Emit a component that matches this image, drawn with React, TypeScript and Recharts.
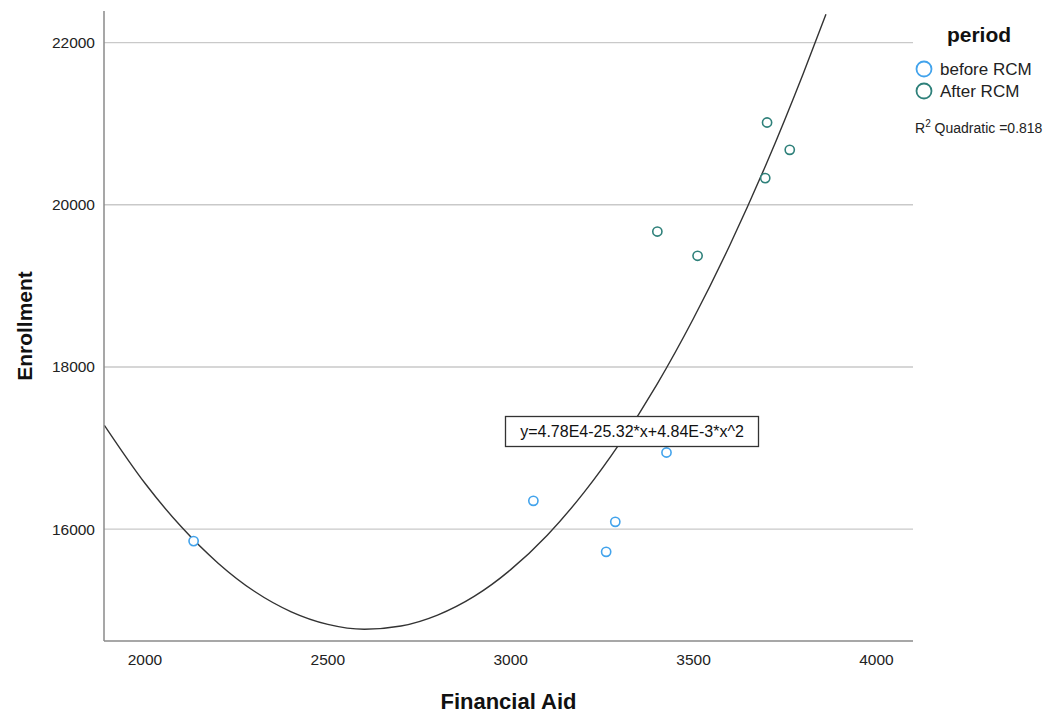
import { CartesianGrid, ComposedChart, Label, Line, Scatter, XAxis, YAxis } from 'recharts';

// financial aid / enrollment pairs
const beforeAid = [2133, 3062, 3286, 3261, 3426];
const beforeEnroll = [15852, 16349, 16090, 15720, 16945];
const afterAid = [3401, 3511, 3701, 3696, 3763];
const afterEnroll = [19670, 19371, 21015, 20329, 20678];

// fitted quadratic curve
const fitAid = [1889, 2000, 2100, 2200, 2300, 2400, 2500, 2600, 2700, 2800, 2900, 3000, 3100, 3200, 3300, 3400, 3500, 3600, 3700, 3800, 3862];
const fitEnroll = [17280, 16565, 16025, 15580, 15230, 14980, 14825, 14765, 14805, 14940, 15170, 15500, 15925, 16450, 17070, 17785, 18600, 19510, 20515, 21620, 22350];

const xTicks = [2000, 2500, 3000, 3500, 4000];
const yTicks = [16000, 18000, 20000, 22000];
const yDomain = [14620, 22390];

const beforeData = beforeAid.map((x, i) => ({ x, y: beforeEnroll[i] }));
const afterData = afterAid.map((x, i) => ({ x, y: afterEnroll[i] }));
const fitData = fitAid.map((x, i) => ({ x, y: fitEnroll[i] }));

const BEFORE = '#42a3ec';
const AFTER = '#2e807a';
const FONT = '"Liberation Sans", Arial, sans-serif';

const ring = (color: string) => (props: any) => (
  <circle cx={props.cx} cy={props.cy} r={4.6} fill="#fff" stroke={color} strokeWidth={1.6} />
);

// only the gridlines at the y ticks, no frame line at the top
const gridRows = ({ yAxis, offset }: any) =>
  yTicks.map((t) => {
    const s = yAxis && yAxis.scale;
    if (typeof s === 'function') return s(t);
    if (s && typeof s.map === 'function') return s.map(t);
    return offset.top + (offset.height * (yDomain[1] - t)) / (yDomain[1] - yDomain[0]);
  });

const App = () => {
  return (
    <div style={{ position: 'absolute', left: 0, top: 0, width: 1061, height: 713, background: '#fff', fontFamily: FONT }}>
      <ComposedChart width={1061} height={713} margin={{ top: 11, right: 148, bottom: 0, left: 0 }}>
        <CartesianGrid vertical={false} horizontalCoordinatesGenerator={gridRows} stroke="#c9c9c9" strokeWidth={1.4} />
        <XAxis
          type="number"
          dataKey="x"
          domain={[1888, 4100]}
          allowDataOverflow
          ticks={xTicks}
          height={72}
          tickLine={false}
          tickSize={0}
          tickMargin={13}
          stroke="#8a8a8a"
          strokeWidth={1.5}
          tick={{ fill: '#222', fontSize: 15.5, fontFamily: FONT }}
        >
          <Label value="Financial Aid" position="insideBottom" offset={4} style={{ fontSize: 22, fontWeight: 'bold', fill: '#111', fontFamily: FONT }} />
        </XAxis>
        <YAxis
          type="number"
          dataKey="y"
          domain={yDomain}
          allowDataOverflow
          ticks={yTicks}
          width={104}
          tickLine={false}
          tickSize={0}
          tickMargin={9}
          stroke="#8a8a8a"
          strokeWidth={1.5}
          tick={{ fill: '#222', fontSize: 15.5, fontFamily: FONT }}
        >
          <Label value="Enrollment" angle={-90} position="insideLeft" offset={25} style={{ textAnchor: 'middle', fontSize: 21, fontWeight: 'bold', fill: '#111', fontFamily: FONT }} />
        </YAxis>
        <Line data={fitData} dataKey="y" type="monotone" stroke="#333" strokeWidth={1.4} dot={false} activeDot={false} isAnimationActive={false} />
        <Scatter data={beforeData} dataKey="y" shape={ring(BEFORE)} isAnimationActive={false} />
        <Scatter data={afterData} dataKey="y" shape={ring(AFTER)} isAnimationActive={false} />
      </ComposedChart>
      <svg width={1061} height={713} style={{ position: 'absolute', left: 0, top: 0, pointerEvents: 'none' }}>
        <g fontFamily={FONT}>
          <rect x={505.5} y={416.5} width={253} height={30} fill="#fff" stroke="#333" strokeWidth={1.3} />
          <text x={632} y={437} textAnchor="middle" fontSize={16} fill="#111">y=4.78E4-25.32*x+4.84E-3*x^2</text>
          <text x={979} y={42} textAnchor="middle" fontSize={21} fontWeight="bold" fill="#111">period</text>
          <circle cx={924} cy={69} r={7.5} fill="#fff" stroke={BEFORE} strokeWidth={1.8} />
          <text x={940} y={75} fontSize={17} fill="#222">before RCM</text>
          <circle cx={924} cy={91} r={7.5} fill="#fff" stroke={AFTER} strokeWidth={1.8} />
          <text x={940} y={97} fontSize={17} fill="#222">After RCM</text>
          <text x={915} y={133} fontSize={14} fill="#222">
            R<tspan dy={-6} fontSize={10}>2</tspan><tspan dy={6}> Quadratic =0.818</tspan>
          </text>
        </g>
      </svg>
    </div>
  );
};

export default App;
